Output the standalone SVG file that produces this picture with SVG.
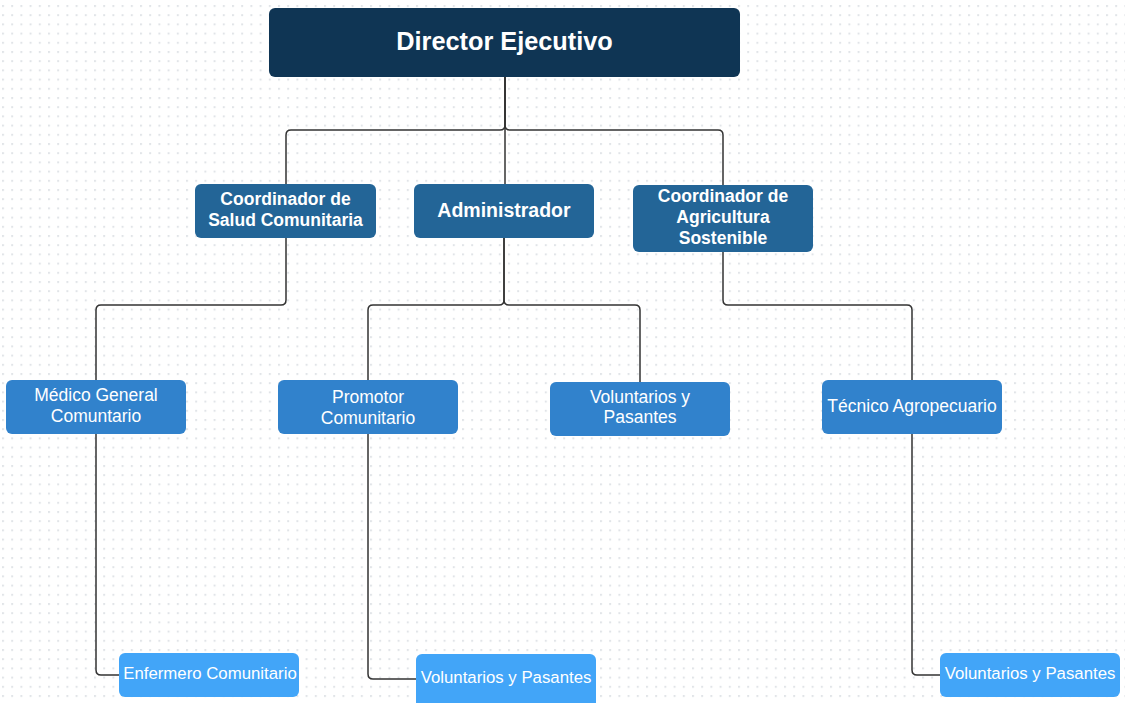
<svg xmlns="http://www.w3.org/2000/svg" width="1125" height="703" viewBox="0 0 1125 703">
<defs>
<pattern id="dots" x="2" y="5" width="9.2" height="9.2" patternUnits="userSpaceOnUse">
<rect x="0" y="0" width="2" height="2" fill="#e1e4e8"/>
</pattern>
<style>
.l1{fill:#0f3554}
.l2{fill:#236597}
.l3{fill:#3182cc}
.l4{fill:#42a5f8}
.b{font-family:"Liberation Sans",Arial,sans-serif;font-weight:bold;fill:#fff;text-anchor:middle}
.n{font-family:"Liberation Sans",Arial,sans-serif;fill:#fff;text-anchor:middle;font-size:17.5px}
.s{font-family:"Liberation Sans",Arial,sans-serif;fill:#fff;text-anchor:middle;font-size:16.8px}
.c{fill:none;stroke:#333;stroke-width:1.5}
</style>
</defs>
<rect width="1125" height="703" fill="#fff"/>
<rect width="1125" height="703" fill="url(#dots)"/>
<g id="connectors" class="c">
<path d="M505,77 V125 Q505,130 500,130 H291 Q286,130 286,135 V184"/>
<path d="M505,77 V125 Q505,130 510,130 H718 Q723,130 723,135 V185"/>
<path d="M505,77 V184"/>
<path d="M286,238 V300 Q286,305 281,305 H101 Q96,305 96,310 V380"/>
<path d="M504,238 V300 Q504,305 499,305 H373 Q368,305 368,310 V380"/>
<path d="M504,238 V300 Q504,305 509,305 H635 Q640,305 640,310 V382"/>
<path d="M723,252 V300 Q723,305 728,305 H907 Q912,305 912,310 V380"/>
<path d="M96,434 V670 Q96,675 101,675 H119"/>
<path d="M368,434 V674 Q368,679 373,679 H416"/>
<path d="M912,434 V670 Q912,675 917,675 H940"/>
</g>
<g id="director">
<rect class="l1" x="269" y="8" width="471" height="69" rx="6"/>
<text class="b" x="504.5" y="50" font-size="25.3">Director Ejecutivo</text>
</g>
<g id="coord-salud">
<rect class="l2" x="195" y="184" width="181" height="54" rx="6"/>
<text class="b" x="285.5" y="205" font-size="17.5">Coordinador de</text>
<text class="b" x="285.5" y="226" font-size="17.5">Salud Comunitaria</text>
</g>
<g id="administrador">
<rect class="l2" x="414" y="184" width="180" height="54" rx="6"/>
<text class="b" x="504" y="217" font-size="19.5">Administrador</text>
</g>
<g id="coord-agricultura">
<rect class="l2" x="633" y="185" width="180" height="67" rx="6"/>
<text class="b" x="723" y="202" font-size="17.5">Coordinador de</text>
<text class="b" x="723" y="223" font-size="17.5">Agricultura</text>
<text class="b" x="723" y="244" font-size="17.5">Sostenible</text>
</g>
<g id="medico">
<rect class="l3" x="6" y="380" width="180" height="54" rx="6"/>
<text class="n" x="96" y="401">Médico General</text>
<text class="n" x="96" y="422">Comuntario</text>
</g>
<g id="promotor">
<rect class="l3" x="278" y="380" width="180" height="54" rx="6"/>
<text class="n" x="368" y="403">Promotor</text>
<text class="n" x="368" y="424">Comunitario</text>
</g>
<g id="voluntarios-admin">
<rect class="l3" x="550" y="382" width="180" height="54" rx="6"/>
<text class="n" x="640" y="403">Voluntarios y</text>
<text class="n" x="640" y="423">Pasantes</text>
</g>
<g id="tecnico">
<rect class="l3" x="822" y="380" width="180" height="54" rx="6"/>
<text class="n" x="912" y="412">Técnico Agropecuario</text>
</g>
<g id="enfermero">
<rect class="l4" x="119" y="653" width="180" height="44" rx="6"/>
<text class="s" x="210" y="679">Enfermero Comunitario</text>
</g>
<g id="voluntarios-promotor">
<rect class="l4" x="416" y="654" width="180" height="56" rx="6"/>
<text class="s" x="506" y="683">Voluntarios y Pasantes</text>
</g>
<g id="voluntarios-tecnico">
<rect class="l4" x="940" y="653" width="180" height="44" rx="6"/>
<text class="s" x="1030" y="679">Voluntarios y Pasantes</text>
</g>
</svg>
